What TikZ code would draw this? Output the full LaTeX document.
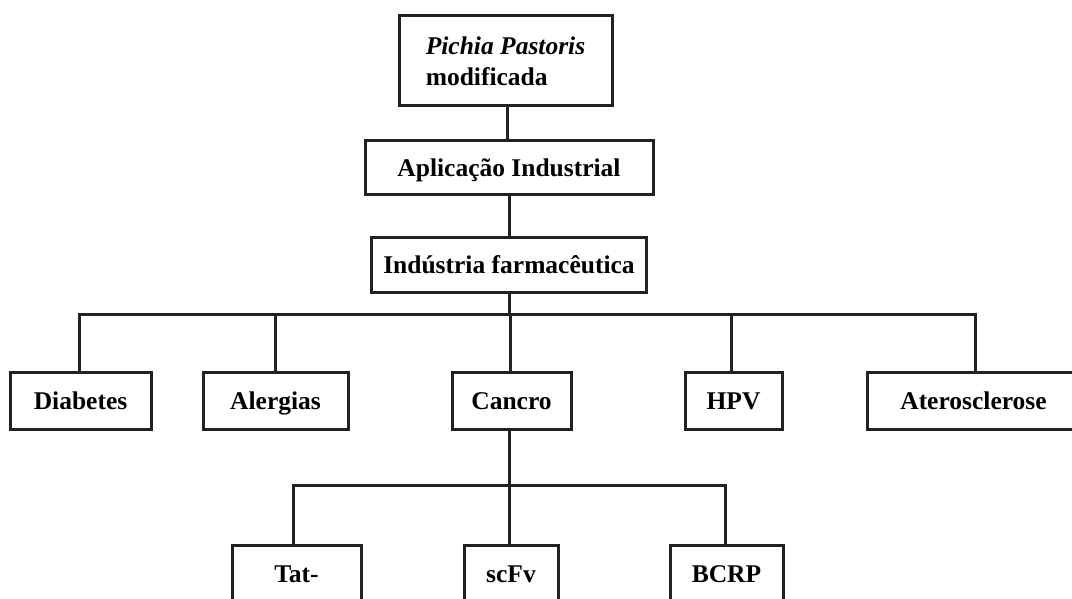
\documentclass[tikz,border=0pt]{standalone}
\usepackage{fontspec}
\setmainfont{Liberation Serif}
\definecolor{ln}{RGB}{34,34,34}
\tikzset{
  box/.style={draw=ln, line width=3pt, fill=white, rectangle, inner sep=0pt,
    font=\fontsize{25.5}{31}\selectfont\bfseries, text=black},
  lbox/.style={box, text height=19pt, text depth=2.5pt},
  conn/.style={draw=ln, line width=3pt}
}
\begin{document}
\begin{tikzpicture}[x=1pt,y=1pt]
\useasboundingbox (0,0) rectangle (1072,598);
\clip (0,0) rectangle (1072,598);
% level 0-2
\node[box, minimum width=213pt, minimum height=90pt, align=left] (top) at (505.5,537) {\textit{Pichia Pastoris}\\modificada};
\node[lbox, minimum width=288pt, minimum height=54pt] (apl) at (509,430) {Aplicação Industrial};
\node[lbox, minimum width=275pt, minimum height=55pt] (ind) at (509,332.5) {Indústria farmacêutica};
% level 3
\node[lbox, minimum width=141pt, minimum height=57pt] (diab) at (80.5,196.5) {Diabetes};
\node[lbox, minimum width=145pt, minimum height=57pt] (alerg) at (275.5,196.5) {Alergias};
\node[lbox, minimum width=119pt, minimum height=57pt] (canc) at (511.5,196.5) {Cancro};
\node[lbox, minimum width=97pt, minimum height=57pt] (hpv) at (733.5,196.5) {HPV};
\node[lbox, minimum width=213pt, minimum height=57pt] (ater) at (973.5,196.5) {Aterosclerose};
% level 4
\node[lbox, minimum width=129pt, minimum height=58pt] (tat) at (296.5,24) {Tat-};
\node[lbox, minimum width=94pt, minimum height=58pt] (scfv) at (511,24) {scFv};
\node[lbox, minimum width=113pt, minimum height=58pt] (bcrp) at (726.5,24) {BCRP};
% bus coordinates
\coordinate (b1) at (509,283);
\coordinate (b2) at (509,113);
% connectors
\draw[conn] ([xshift=1.5pt]top.south) -- ([xshift=1.5pt]top.south |- apl.north);
\draw[conn] (apl.south) -- (apl.south |- ind.north);
\draw[conn] (ind.south) -- (b1);
\draw[conn] ([xshift=-1.5pt]diab.north) |- (b1);
\draw[conn] (alerg.north) |- (b1);
\draw[conn] ([xshift=-1.5pt]canc.north) -- ([xshift=-1.5pt]canc.north |- b1);
\draw[conn] ([xshift=-2.5pt]hpv.north) |- (b1);
\draw[conn] ([xshift=1.5pt]ater.north) |- (b1);
\draw[conn] ([xshift=-2.5pt]canc.south) -- ([xshift=-2.5pt]canc.south |- b2);
\draw[conn] ([xshift=-3.5pt]tat.north) |- (b2);
\draw[conn] ([xshift=-2pt]scfv.north) -- ([xshift=-2pt]scfv.north |- b2);
\draw[conn] ([xshift=-1.5pt]bcrp.north) |- (b2);
\end{tikzpicture}
\end{document}
